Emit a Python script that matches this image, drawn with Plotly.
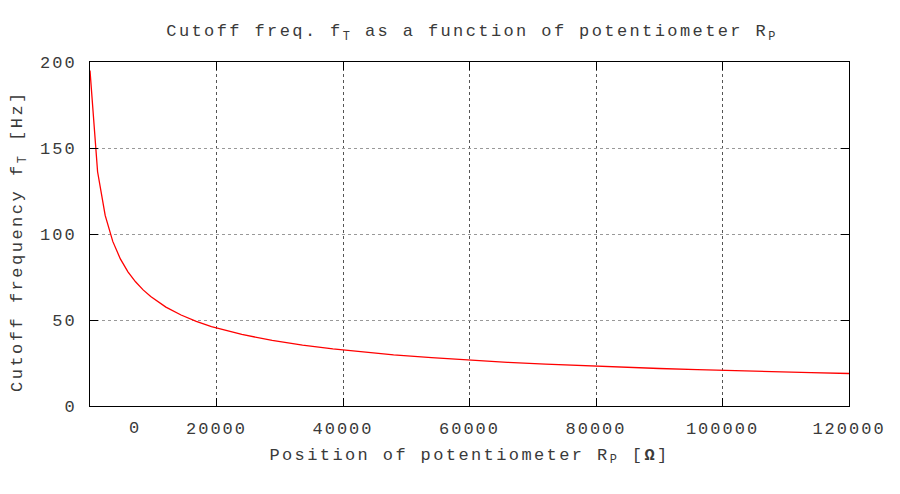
import plotly.graph_objects as go

# Potentiometer position R_P [Ohm] and cutoff frequency f_T [Hz]
rp_ohm = [0, 1200, 2400, 3600, 4800, 6000, 7200, 8400, 9600, 10800, 12000,
          14400, 16800, 19200, 21600, 24000, 28800, 33600, 38400, 43200, 48000,
          54000, 60000, 66000, 72000, 78000, 84000, 90000, 96000, 102000,
          108000, 114000, 120000]
ft_hz = [195.0, 136.2, 110.8, 95.7, 85.5, 78.0, 72.2, 67.5, 63.6, 60.3, 57.5,
         52.9, 49.2, 46.2, 43.7, 41.6, 38.1, 35.4, 33.2, 31.3, 29.7,
         28.1, 26.7, 25.4, 24.4, 23.4, 22.6, 21.8, 21.2, 20.5,
         20.0, 19.4, 18.9]

x_ticks = [0, 20000, 40000, 60000, 80000, 100000, 120000]
x_labels = ["", "20000", "40000", "60000", "80000", "100000", "120000"]
y_ticks = [0, 50, 100, 150, 200]
y_labels = ["0", "50", "100", "150", "200"]

FONT = "Courier New, Liberation Mono, monospace"
TXT = "#3a3a3a"


def sp(s, ls=2.0):
    return f'<span style="letter-spacing:{ls}px">' + s + "</span>" if s else ""


fig = go.Figure()
fig.add_trace(go.Scatter(x=rp_ohm, y=ft_hz, mode="lines",
                         line=dict(color="#ff0000", width=1.3),
                         showlegend=False, hoverinfo="skip"))

W, H = 900, 494
# page body adds an 8px offset; margins compensate
L, R, T, B = 82, 59, 54, 96
PW, PH = W - L - R, H - T - B  # plot area size in px

fig.update_layout(
    width=W, height=H,
    margin=dict(l=L, r=R, t=T, b=B),
    paper_bgcolor="white", plot_bgcolor="white",
    font=dict(family=FONT, size=17, color=TXT),
    title=dict(text=sp("Cutoff freq. f<sub>T</sub> as a function of potentiometer R<sub>P</sub>", 2.4),
               x=(471 - 8 + 1) / W, xanchor="center", xref="container",
               y=1 - 22 / H, yanchor="middle", yref="container",
               font=dict(family=FONT, size=17, color=TXT)),
    xaxis=dict(range=[0, 120000], tickvals=x_ticks, ticktext=[sp(t) for t in x_labels],
               showgrid=True, gridcolor="#555555", griddash="dot", gridwidth=1,
               showline=True, linecolor="black", linewidth=1, mirror="ticks",
               ticks="inside", ticklen=8, tickcolor="black",
               ticklabelstandoff=7, zeroline=False,
               title=dict(text=sp("Position of potentiometer R<sub>P</sub> [<b>Ω</b>]", 2.4),
                          standoff=9, font=dict(family=FONT, size=17, color=TXT))),
    yaxis=dict(range=[0, 200], tickvals=y_ticks, ticktext=[sp(t) for t in y_labels],
               showgrid=True, gridcolor="#999999", griddash="dot", gridwidth=1,
               showline=True, linecolor="black", linewidth=1, mirror="ticks",
               ticks="inside", ticklen=8, tickcolor="black",
               ticklabelstandoff=9, zeroline=False),
)

# y-axis title placed as a rotated annotation to match the reference position
fig.add_annotation(text=sp("Cutoff frequency f<sub>T</sub> [Hz]", 2.5),
                   x=(19 - 90) / PW, xref="paper", y=(406 - 241) / PH, yref="paper",
                   textangle=-90, showarrow=False, xanchor="center", yanchor="middle",
                   font=dict(family=FONT, size=17, color=TXT))

fig.add_annotation(text=sp("0"), x=7100, xref="x", y=-(428 - 406) / PH,
                   yref="paper", showarrow=False, xanchor="center", yanchor="middle",
                   font=dict(family=FONT, size=17, color=TXT))

fig.write_html("out.html")
